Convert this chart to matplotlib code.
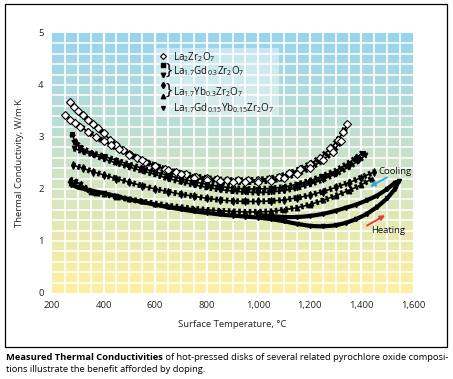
import numpy as np
import matplotlib
matplotlib.use("Agg")
import matplotlib.pyplot as plt
from matplotlib.patches import Rectangle

plt.rcParams['font.family'] = ['Open Sans', 'DejaVu Sans']
plt.rcParams['mathtext.default'] = 'regular'

# ---------------- data ----------------
# La2Zr2O7 (open diamonds), two runs
la_T1 = [270, 285, 300, 320, 340, 360, 380, 400, 425, 450, 475, 500, 530, 560, 600, 640, 680, 720, 760,
         800, 840, 880, 920, 960, 1000, 1040, 1080, 1120, 1160, 1200, 1240, 1280, 1310, 1330, 1345]
la_k1 = [3.67, 3.58, 3.50, 3.42, 3.33, 3.25, 3.17, 3.07, 2.95, 2.85, 2.75, 2.68, 2.60, 2.52, 2.45, 2.38, 2.33, 2.28, 2.24,
         2.21, 2.19, 2.17, 2.17, 2.17, 2.18, 2.20, 2.24, 2.30, 2.38, 2.48, 2.60, 2.78, 2.95, 3.10, 3.25]
la_T2 = [250, 270, 290, 310, 340, 370, 400, 430, 460, 500, 550, 600, 650, 700, 750, 800, 850, 900, 950,
         1000, 1050, 1100, 1150, 1200, 1250, 1290, 1320]
la_k2 = [3.42, 3.33, 3.27, 3.20, 3.10, 3.00, 2.92, 2.84, 2.76, 2.66, 2.55, 2.45, 2.36, 2.29, 2.22, 2.18, 2.15, 2.13, 2.13,
         2.14, 2.16, 2.21, 2.29, 2.40, 2.55, 2.72, 2.92]

# La1.7Gd0.3Zr2O7 (squares, down triangles)
gd_T1 = [278, 290, 310, 350, 400, 450, 500, 550, 600, 650, 700, 750, 800, 850, 900, 950, 1000, 1050, 1100,
         1150, 1200, 1250, 1300, 1350, 1380, 1405]
gd_k1 = [3.05, 2.90, 2.80, 2.70, 2.63, 2.55, 2.47, 2.40, 2.33, 2.26, 2.20, 2.14, 2.09, 2.05, 2.02, 2.00, 2.00, 2.01, 2.04,
         2.09, 2.16, 2.25, 2.35, 2.50, 2.60, 2.70]
gd_T2 = [285, 320, 360, 400, 450, 500, 550, 600, 650, 700, 750, 800, 850, 900, 950, 1000, 1050, 1100, 1150,
         1200, 1250, 1300, 1350, 1390, 1415]
gd_k2 = [2.78, 2.72, 2.66, 2.58, 2.50, 2.42, 2.35, 2.28, 2.20, 2.14, 2.08, 2.03, 1.99, 1.96, 1.94, 1.93, 1.94, 1.97, 2.02,
         2.09, 2.18, 2.29, 2.42, 2.55, 2.65]

# La1.7Yb0.3Zr2O7 (filled diamonds, up triangles)
yb_T1 = [280, 320, 360, 400, 450, 500, 550, 600, 650, 700, 750, 800, 850, 900, 950, 1000, 1050, 1100, 1150,
         1200, 1250, 1300, 1350, 1400, 1450]
yb_k1 = [2.46, 2.40, 2.33, 2.27, 2.20, 2.13, 2.06, 2.00, 1.95, 1.90, 1.86, 1.82, 1.79, 1.77, 1.76, 1.76, 1.77, 1.79, 1.83,
         1.88, 1.95, 2.03, 2.12, 2.22, 2.33]
yb_T2 = [270, 290, 310, 330, 350, 370, 400, 450, 500, 550, 600, 650, 700, 750, 800, 850, 900, 950, 1000,
         1050, 1100, 1150, 1200, 1250, 1300, 1350, 1400, 1440]
yb_k2 = [2.18, 2.15, 2.10, 2.02, 1.95, 1.92, 1.90, 1.85, 1.80, 1.76, 1.72, 1.68, 1.65, 1.62, 1.60, 1.58, 1.57, 1.56, 1.56,
         1.57, 1.60, 1.64, 1.70, 1.78, 1.87, 1.97, 2.08, 2.20]

# La1.7Gd0.15Yb0.15Zr2O7 (heating then cooling loop)
mix_T = [275, 300, 350, 400, 450, 500, 550, 600, 650, 700, 750, 800, 850, 900, 950, 1000, 1050, 1100, 1150,
         1200, 1250, 1300, 1340, 1380, 1420, 1460, 1500, 1530, 1545,
         1530, 1500, 1460, 1420, 1380, 1340, 1300, 1250, 1200, 1150, 1100, 1050, 1000]
mix_k = [2.08, 2.03, 1.97, 1.92, 1.86, 1.80, 1.75, 1.70, 1.65, 1.61, 1.57, 1.54, 1.51, 1.49, 1.47, 1.45, 1.42, 1.38, 1.33,
         1.29, 1.28, 1.30, 1.35, 1.42, 1.52, 1.65, 1.82, 2.00, 2.15,
         2.12, 2.00, 1.87, 1.78, 1.70, 1.64, 1.58, 1.52, 1.48, 1.46, 1.46, 1.48, 1.50]

x_ticks = [200, 400, 600, 800, 1000, 1200, 1400, 1600]
x_labels = ['200', '400', '600', '800', '1,000', '1,200', '1,400', '1,600']
y_ticks = [0, 1, 2, 3, 4, 5]

legend_labels = [r'La$_2$Zr$_2$O$_7$', r'La$_{1.7}$Gd$_{0.3}$Zr$_2$O$_7$',
                 r'La$_{1.7}$Yb$_{0.3}$Zr$_2$O$_7$', r'La$_{1.7}$Gd$_{0.15}$Yb$_{0.15}$Zr$_2$O$_7$']

# ---------------- figure ----------------
W, H = 453, 379
fig = plt.figure(figsize=(W / 100, H / 100), dpi=100)
fig.patch.set_facecolor('white')

def fx(px):
    return px / W

def fy(py):
    return 1 - py / H

ax = fig.add_axes([fx(52), fy(293), fx(413) - fx(52), fy(33) - fy(293)])
ax.set_xlim(200, 1600)
ax.set_ylim(0, 5)

# background gradient
top = np.array([152, 212, 238]) / 255
bot = np.array([255, 240, 160]) / 255
t = np.linspace(0, 1, 256)[:, None]
grad = (bot[None, :] * (1 - t) + top[None, :] * t)[:, None, :]
ax.imshow(grad, extent=[200, 1600, 0, 5], origin='lower', aspect='auto', zorder=0)

for xv in np.arange(250, 1600, 50):
    ax.axvline(xv, color='white', lw=1.2 if xv % 200 else 1.6, zorder=1)
for yv in np.arange(0.2, 5.0, 0.2):
    ax.axhline(yv, color='white', lw=1.1, zorder=1)

for s in ax.spines.values():
    s.set_visible(False)
ax.tick_params(length=0, labelsize=6.8, pad=6, colors='#222222')
ax.set_xticks(x_ticks)
ax.set_xticklabels(x_labels)
ax.set_yticks(y_ticks)
ax.set_xlabel('Surface Temperature, °C', fontsize=6.8, labelpad=7, color='#222222')
ax.set_ylabel('Thermal Conductivity, W/m·K', fontsize=6.8, labelpad=10, color='#222222')

# legend background box
ax.add_patch(Rectangle((605, 3.40), 475, 1.32, facecolor='white', alpha=0.45, edgecolor='none', zorder=2))

def band(T, k, marker, ms, face, zo=4):
    ax.plot(T, k, color='black', lw=4.2, ls=(0, (0.45, 0.45)), zorder=zo)
    ax.plot(T, k, color='black', lw=1.2, zorder=zo)
    ax.plot(T, k, ls='none', marker=marker, ms=ms, mfc=face, mec='black', mew=0.8, zorder=zo + 1)

band(la_T1, la_k1, 'D', 3.6, 'white')
band(la_T2, la_k2, 'D', 3.6, 'white')
band(gd_T1, gd_k1, 's', 3.0, 'black')
band(gd_T2, gd_k2, 'v', 3.4, 'black')
band(yb_T1, yb_k1, 'd', 3.6, 'black')
band(yb_T2, yb_k2, '^', 3.4, 'black')
ax.plot(mix_T, mix_k, color='black', lw=3.0, zorder=4, solid_joinstyle='round')
ax.plot(mix_T, mix_k, ls='none', marker='v', ms=3.0, color='black', zorder=5)

# annotations
ax.annotate('', xy=(1424, 2.02), xytext=(1509, 2.25),
            arrowprops=dict(arrowstyle='-|>', color='#2aa6df', lw=1.3, mutation_scale=7), zorder=6)
ax.text(1466, 2.33, 'Cooling', fontsize=6.8, va='center', ha='left', color='#111111', zorder=6)
ax.annotate('', xy=(1501, 1.52), xytext=(1412, 1.27),
            arrowprops=dict(arrowstyle='-|>', color='#e63a2e', lw=1.3, mutation_scale=7), zorder=6)
ax.text(1436, 1.21, 'Heating', fontsize=6.8, va='center', ha='left', color='#111111', zorder=6)

# legend (manual)
lx = 163
fig.lines.append(plt.Line2D([fx(lx)], [fy(56)], marker='D', ms=3.0, mfc='white', mec='black', mew=0.8, transform=fig.transFigure))
fig.lines.append(plt.Line2D([fx(lx)], [fy(65)], marker='s', ms=3.0, color='black', transform=fig.transFigure))
fig.lines.append(plt.Line2D([fx(lx)], [fy(75)], marker='v', ms=3.2, color='black', transform=fig.transFigure))
fig.lines.append(plt.Line2D([fx(lx)], [fy(85)], marker='d', ms=3.2, color='black', transform=fig.transFigure))
fig.lines.append(plt.Line2D([fx(lx)], [fy(96)], marker='^', ms=3.2, color='black', transform=fig.transFigure))
fig.lines.append(plt.Line2D([fx(lx)], [fy(108)], marker='v', ms=2.8, color='black', transform=fig.transFigure))
fig.text(fx(166), fy(70.5), '}', fontsize=12, va='center', ha='left', color='black')
fig.text(fx(166), fy(91), '}', fontsize=12, va='center', ha='left', color='black')
ys = [57, 71, 92, 108]
for lab, yy in zip(legend_labels, ys):
    fig.text(fx(173), fy(yy), lab, fontsize=7.1, va='center', ha='left', color='#111111')

# frame box
fig.patches.append(Rectangle((fx(5), fy(347)), fx(447) - fx(5), fy(4) - fy(347), transform=fig.transFigure,
                             fill=False, edgecolor='black', lw=0.9))

# caption
cap_bold = 'Measured Thermal Conductivities'
cap_rest = ' of hot-pressed disks of several related pyrochlore oxide composi-'
t1 = fig.text(fx(6), fy(357), cap_bold, fontsize=6.75, fontweight='bold', va='center', ha='left')
fig.canvas.draw()
bb = t1.get_window_extent()
fig.text(bb.x1 / W, fy(357), cap_rest, fontsize=6.75, va='center', ha='left')
fig.text(fx(6), fy(369), 'tions illustrate the benefit afforded by doping.', fontsize=6.75, va='center', ha='left')

fig.savefig('out.png', dpi=100)
